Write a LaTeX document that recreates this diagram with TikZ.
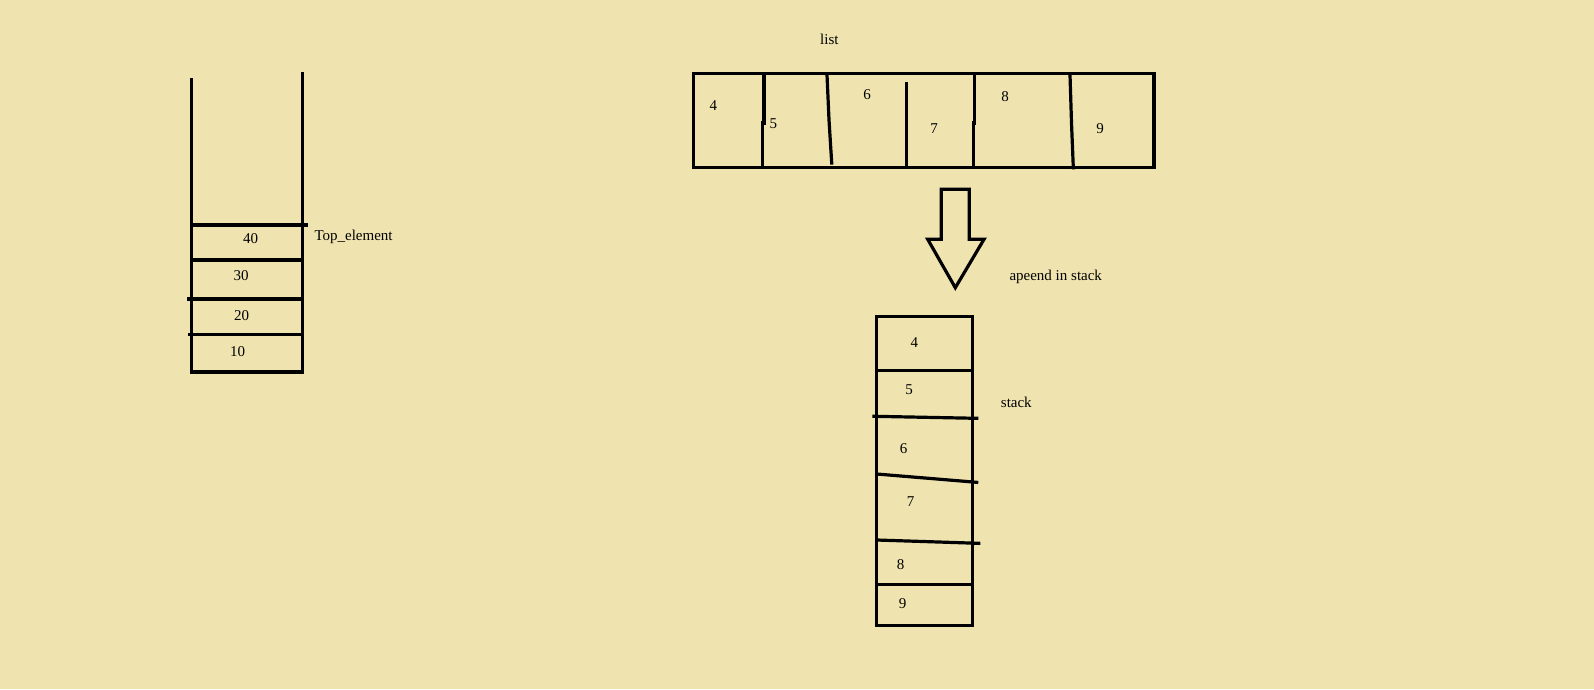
\documentclass[tikz,border=0pt]{standalone}
\usepackage{fontspec}
\setmainfont{Liberation Serif}
\definecolor{paper}{RGB}{239,228,176}
\tikzset{
  wall/.style={line width=3.2pt, line cap=rect},
  lbl/.style={inner sep=0pt, font=\fontsize{15}{18}\selectfont},
  num/.style={lbl, anchor=center},
  side/.style={lbl, anchor=base west}
}
\begin{document}
\begin{tikzpicture}[x=1pt,y=-1pt]
\fill[paper] (0,0) rectangle (1594,689);
\useasboundingbox (0,0) rectangle (1594,689);

% ---- left stack ----
\draw[wall] (191.3,79.3) -- (191.3,372) -- (302.3,372) -- (302.3,73.3);
\draw[wall] (191.3,225) -- (306.7,225);
\draw[wall] (191.3,260) -- (302.3,260);
\draw[wall] (188.3,299) -- (302.3,299);
\draw[wall] (189.3,334.3) -- (302.3,334.3);
\node[num] (s40) at (250.7,239) {40};
\node[num] (s30) at (241,276) {30};
\node[num] (s20) at (241.7,316) {20};
\node[num] (s10) at (237.7,351.7) {10};
\node[side] (top) at (314.3,240) {Top\_element};

% ---- list ----
\node[side] (list) at (820,44) {list};
\draw[wall] (693.3,73.3) rectangle (1154,167.7);
\draw[wall] (764,73.3) -- (764,123) -- (762.7,123) -- (762.7,167.7);
\draw[wall] (827,75) -- (829,120) -- (831.7,163);
\draw[wall] (906.3,83.3) -- (906.3,167.7);
\draw[wall] (974.3,76.7) -- (974.3,123) -- (973.3,123) -- (973.3,167.7);
\draw[wall] (1070,75) -- (1071.5,123) -- (1073.3,167.7);
\node[num] (l4) at (713.3,106) {4};
\node[num] (l5) at (773.3,124) {5};
\node[num] (l6) at (867,95) {6};
\node[num] (l7) at (934,128.3) {7};
\node[num] (l8) at (1005,96.7) {8};
\node[num] (l9) at (1100,128.3) {9};

% ---- arrow ----
\draw[wall, line join=miter, line cap=butt] (941.3,189.3) -- (969.3,189.3) -- (969.3,239.3) -- (984,239.3)
  -- (955.3,287.7) -- (927.7,239.3) -- (941.3,239.3) -- cycle;
\node[side] (app) at (1009.3,280) {apeend in stack};

% ---- right stack ----
\draw[wall] (876.7,316.7) rectangle (972.3,625.7);
\draw[wall] (876.7,370.7) -- (972.3,370.7);
\draw[wall] (874,416.3) -- (976.7,418.3);
\draw[wall] (876.7,474) -- (976.7,482.3);
\draw[wall] (876.7,540) -- (978.7,543.3);
\draw[wall] (876.7,584.3) -- (972.3,584.3);
\node[num] (r4) at (914.3,342.3) {4};
\node[num] (r5) at (909,390) {5};
\node[num] (r6) at (903.7,448.3) {6};
\node[num] (r7) at (910.7,501.7) {7};
\node[num] (r8) at (900.7,565) {8};
\node[num] (r9) at (902.7,603.3) {9};
\node[side] (stk) at (1000.7,407.7) {stack};
\end{tikzpicture}
\end{document}
